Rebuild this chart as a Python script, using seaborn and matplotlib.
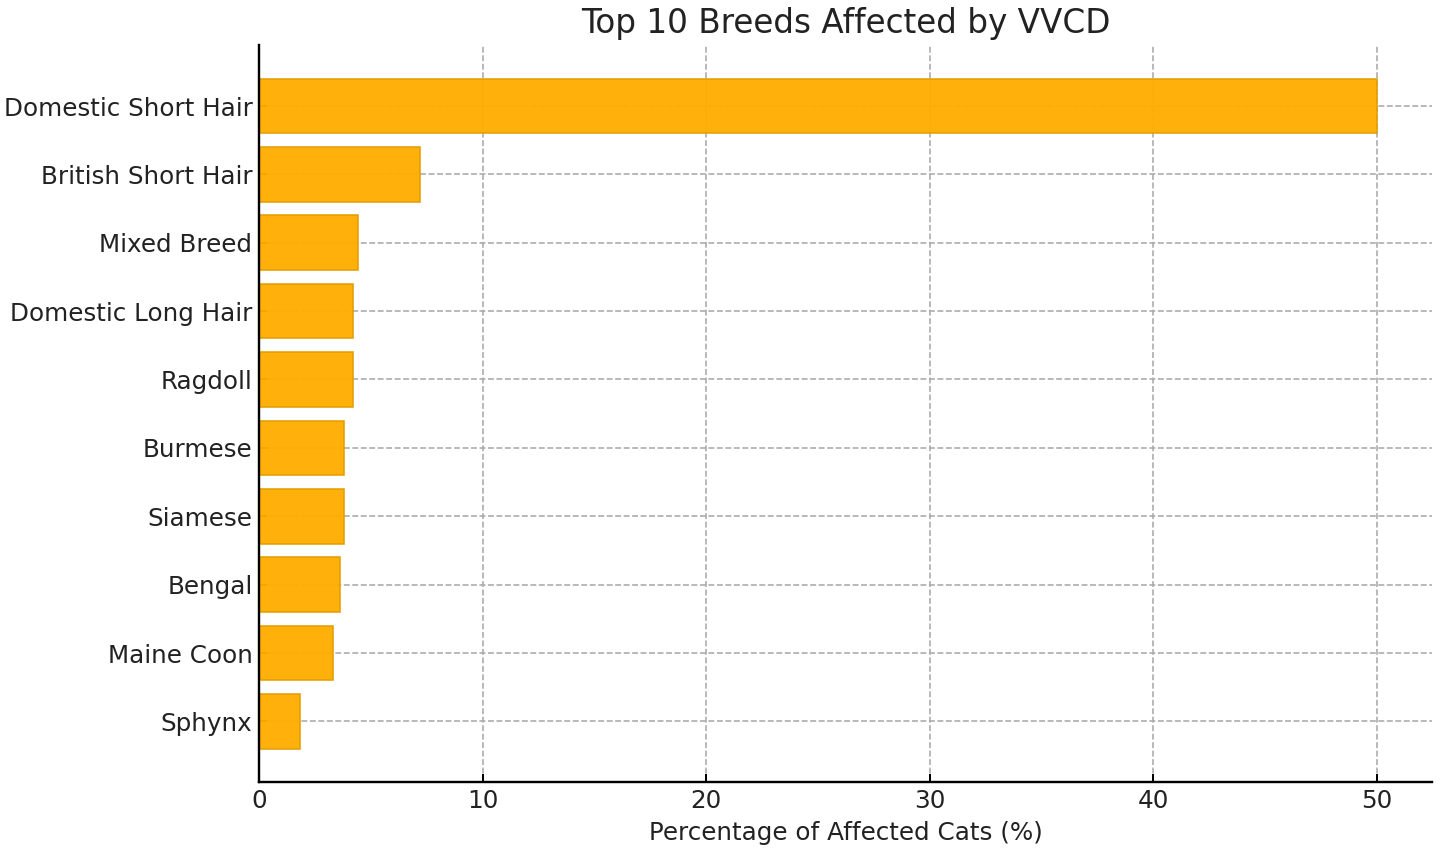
import matplotlib
matplotlib.use("Agg")
import matplotlib.pyplot as plt
import seaborn as sns
import pandas as pd

breeds = ["Domestic Short Hair", "British Short Hair", "Mixed Breed", "Domestic Long Hair",
          "Ragdoll", "Burmese", "Siamese", "Bengal", "Maine Coon", "Sphynx"]
percentages = [50.0, 7.2, 4.4, 4.2, 4.2, 3.8, 3.8, 3.6, 3.3, 1.8]

df = pd.DataFrame({"Breed": breeds, "Percentage": percentages})

sns.set_theme(style="white")
plt.rcParams['font.family'] = ['DejaVu Sans']

fig = plt.figure(figsize=(10.007, 5.924), dpi=144)
ax = fig.add_axes([0.180, 0.083, 0.814, 0.864])

sns.barplot(data=df, x="Percentage", y="Breed", orient="h", ax=ax,
            color="#FFAD00", saturation=1, edgecolor="#E39D00", linewidth=0.8,
            alpha=0.96, width=0.8, zorder=2)

ax.grid(True, linestyle="--", color="#aaaaaa", linewidth=0.8, zorder=1)
ax.set_axisbelow(True)
n = len(breeds)
ax.set_ylim(n - 1 + 0.89, -0.89)
ax.set_xlim(0, 52.5)
ax.set_xticks([0, 10, 20, 30, 40, 50])

for s in ["top", "right"]:
    ax.spines[s].set_visible(False)
for s in ["left", "bottom"]:
    ax.spines[s].set_color("black")
    ax.spines[s].set_linewidth(1.2)

ax.tick_params(axis="both", direction="in", length=4, width=1, colors="black",
               labelsize=12.3, left=True, bottom=True)
for lbl in ax.get_xticklabels() + ax.get_yticklabels():
    lbl.set_color("#222222")

ax.set_ylabel("")
ax.set_xlabel("Percentage of Affected Cats (%)", fontsize=12.3, color="#222222")
ax.set_title("Top 10 Breeds Affected by VVCD", fontsize=16.3, color="#222222")

fig.savefig("out.png", dpi=144)
